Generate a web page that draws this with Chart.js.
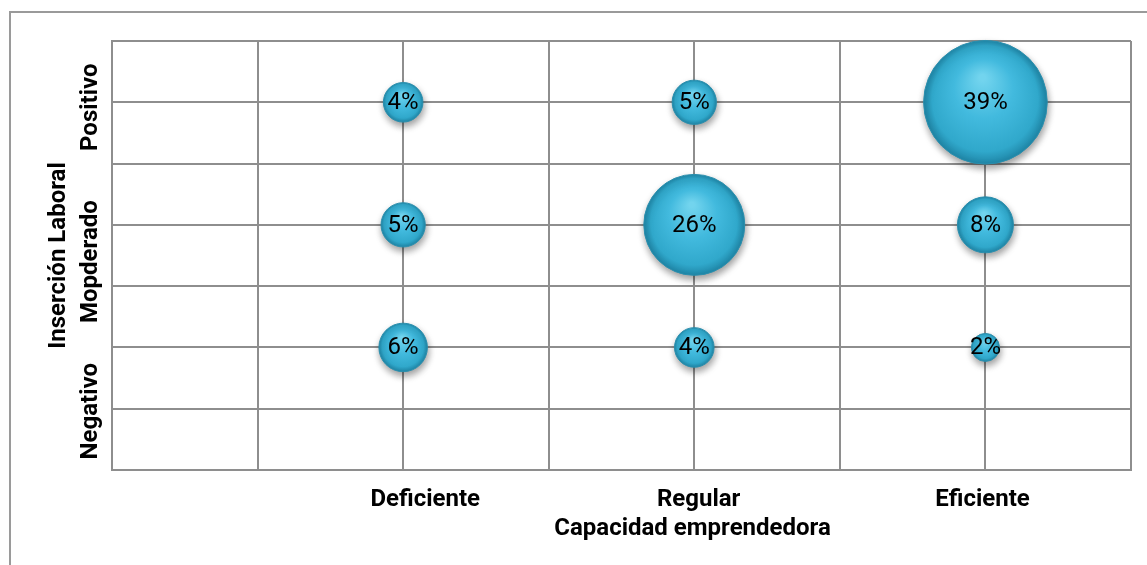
<!DOCTYPE html>
<html><head><meta charset="utf-8">
<script src="https://cdn.jsdelivr.net/npm/chart.js@4.4.1/dist/chart.umd.min.js"></script>
<style>
html,body{margin:0;padding:0;background:#fff;overflow:hidden}
#wrap{position:relative;width:1147px;height:565px}
#frame{position:absolute;left:9px;top:11px;width:1200px;height:600px;border-left:2px solid #9a9a9a;border-top:2px solid #9a9a9a}
canvas{position:absolute;left:0;top:0}
</style></head><body>
<div id="wrap"><div id="frame"></div><canvas id="c" width="1147" height="565"></canvas></div>
<script>
// ---- data ----
const categories = ['Deficiente', 'Regular', 'Eficiente'];
const levels = ['Negativo', 'Mopderado', 'Positivo'];
const negativo = [6, 4, 2];
const moderado = [5, 26, 8];
const positivo = [4, 5, 39];
const xTitle = 'Capacidad emprendedora';
const yTitle = 'Inserción Laboral';

// ---- build ----
const series = [negativo, moderado, positivo];
const points = [];
categories.forEach((c, i) => series.forEach((s, j) => points.push({x: i + 1, y: j + 1, v: s[i]})));

const GRID = '#8e8e8e';
const LBL = {family: 'Roboto', size: 24, weight: 'bold'};
const K = 9.9; // px per sqrt(percent)

function build() {
  const mc = document.createElement('canvas').getContext('2d');
  mc.font = 'bold 24px Roboto';
  const widest = Math.max(...levels.map(l => mc.measureText(l).width));

  const shadow = {
    id: 'shadow',
    beforeDatasetDraw(chart) { const c = chart.ctx; c.save(); c.shadowColor = 'rgba(0,0,0,0.38)'; c.shadowBlur = 7; c.shadowOffsetX = 1; c.shadowOffsetY = 4; },
    afterDatasetDraw(chart) { chart.ctx.restore(); }
  };
  const labels = {
    id: 'bubbleLabels',
    afterDatasetsDraw(chart) {
      const c = chart.ctx; c.save();
      c.font = '24px Roboto'; c.textAlign = 'center'; c.textBaseline = 'middle'; c.fillStyle = '#000';
      chart.getDatasetMeta(0).data.forEach((el, k) => c.fillText(points[k].v + '%', el.x, el.y + 1));
      c.restore();
    }
  };

  new Chart(document.getElementById('c'), {
    type: 'bubble',
    data: {datasets: [{
      data: points, xAxisID: 'x', yAxisID: 'y', clip: false,
      radius: c => c.raw ? K * Math.sqrt(c.raw.v) : 10,
      hoverRadius: 0,
      borderWidth: 1, borderColor: '#2a8fae',
      backgroundColor(c) {
        const chart = c.chart;
        if (!c.raw || !chart.chartArea) return '#3fb6d6';
        const cx = chart.scales.x.getPixelForValue(c.raw.x), cy = chart.scales.y.getPixelForValue(c.raw.y);
        const r = K * Math.sqrt(c.raw.v);
        const g = chart.ctx.createRadialGradient(cx - 0.05 * r, cy - 0.4 * r, r * 0.05, cx, cy, r);
        g.addColorStop(0, '#72d4ee'); g.addColorStop(0.45, '#42bade'); g.addColorStop(0.85, '#30a8cb'); g.addColorStop(1, '#1f86a7');
        return g;
      }
    }]},
    options: {
      responsive: false, animation: false, events: [],
      layout: {autoPadding: false, padding: {left: 0, right: 16, top: 41, bottom: 0}},
      plugins: {legend: {display: false}, tooltip: {enabled: false}},
      scales: {
        x: {type: 'linear', position: 'bottom', min: 0, max: 3.5, weight: 0,
          ticks: {display: false, stepSize: 0.5}, grid: {color: GRID, lineWidth: 2, drawTicks: false},
          border: {display: true, color: GRID, width: 2}, afterFit(s) { s.height = 0; }},
        xl: {type: 'linear', position: 'bottom', min: 0, max: 3.5, weight: 1,
          grid: {display: false, drawTicks: false}, border: {display: false},
          ticks: {font: LBL, color: '#000', padding: 16, autoSkip: false, minRotation: 0, maxRotation: 0, callback: (v, i) => categories[i]},
          afterBuildTicks(s) { const sh = [0.076, 0.015, -0.01]; s.ticks = categories.map((c, i) => ({value: i + 1 + sh[i]})); },
          afterFit(s) { s.height = 44; }},
        xt: {type: 'linear', position: 'bottom', min: 0, max: 3.5, weight: 2,
          grid: {display: false, drawTicks: false}, border: {display: false},
          ticks: {font: LBL, color: '#000', padding: 1, autoSkip: false, minRotation: 0, maxRotation: 0, callback: () => xTitle},
          afterBuildTicks(s) { s.ticks = [{value: 1.994}]; },
          afterFit(s) { s.height = 51; }},
        y: {type: 'linear', position: 'left', min: 0, max: 3.5, weight: 0,
          ticks: {display: false, stepSize: 0.5}, grid: {color: GRID, lineWidth: 2, drawTicks: false},
          border: {display: true, color: GRID, width: 2}, afterFit(s) { s.width = 0; }},
        yl: {type: 'linear', position: 'left', min: 0, max: 3.5, weight: 1,
          grid: {display: false, drawTicks: false}, border: {display: false},
          ticks: {font: LBL, color: '#000', minRotation: 90, maxRotation: 90, crossAlign: 'center',
            padding: 21 - widest / 2, autoSkip: false, callback: (v, i) => levels[i]},
          afterBuildTicks(s) { const sh = [-0.52, -0.30, -0.04]; s.ticks = levels.map((l, i) => ({value: i + 1 + sh[i]})); },
          title: {display: true, text: yTitle, font: LBL, color: '#000', padding: {top: 45, bottom: 0}},
          afterFit(s) { s.width = 112; }}
      }
    },
    plugins: [shadow, labels]
  });
}
Promise.all([document.fonts.load('bold 24px Roboto'), document.fonts.load('24px Roboto')]).catch(() => {}).then(build);
</script>
</body></html>
